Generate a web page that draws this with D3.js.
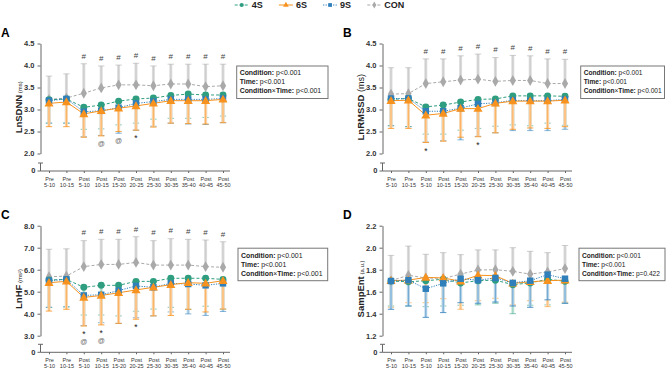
<!DOCTYPE html>
<html>
<head>
<meta charset="utf-8">
<script src="https://d3js.org/d3.v7.min.js"></script>
<style>
  body { margin: 0; background: #fff; }
  svg { font-family: "Liberation Sans", Arial, sans-serif; }
</style>
</head>
<body>
<svg id="chart" width="669" height="371"></svg>
<script>
// ---- data ----
const timeTop = ["Pre", "Pre", "Post", "Post", "Post", "Post", "Post", "Post", "Post", "Post", "Post"];
const timeBottom = ["5-10", "10-15", "5-10", "10-15", "15-20", "20-25", "25-30", "30-35", "35-40", "40-45", "45-50"];
const groups = ["4S", "6S", "9S", "CON"];

// A: LnSDNN (mean, lower SD end / upper SD end for CON)
const sdnn4S   = [3.22, 3.24, 3.05, 3.10, 3.19, 3.24, 3.26, 3.32, 3.35, 3.33, 3.33];
const sdnn4SLo = [2.69, 2.69, 2.55, 2.56, 2.65, 2.69, 2.78, 2.80, 2.80, 2.82, 2.85];
const sdnn6S   = [3.14, 3.17, 2.90, 2.97, 3.03, 3.08, 3.14, 3.20, 3.20, 3.20, 3.23];
const sdnn6SLo = [2.61, 2.61, 2.37, 2.40, 2.50, 2.53, 2.60, 2.69, 2.68, 2.67, 2.70];
const sdnn9S   = [3.20, 3.24, 2.95, 2.97, 3.04, 3.14, 3.18, 3.23, 3.23, 3.23, 3.25];
const sdnn9SLo = [2.69, 2.69, 2.38, 2.41, 2.46, 2.53, 2.62, 2.69, 2.67, 2.66, 2.70];
const sdnnCON   = [3.23, 3.26, 3.37, 3.49, 3.56, 3.56, 3.54, 3.58, 3.58, 3.52, 3.54];
const sdnnCONHi = [3.76, 3.81, 4.04, 3.99, 4.01, 4.05, 3.99, 4.03, 4.03, 4.03, 4.03];

// B: LnRMSSD
const rmssd4S   = [3.23, 3.25, 3.06, 3.10, 3.17, 3.23, 3.24, 3.31, 3.31, 3.31, 3.30];
const rmssd4SLo = [2.63, 2.61, 2.44, 2.44, 2.53, 2.57, 2.62, 2.65, 2.63, 2.69, 2.64];
const rmssd6S   = [3.20, 3.21, 2.87, 2.91, 3.02, 3.02, 3.14, 3.19, 3.19, 3.19, 3.21];
const rmssd6SLo = [2.57, 2.57, 2.25, 2.28, 2.37, 2.38, 2.47, 2.55, 2.58, 2.57, 2.61];
const rmssd9S   = [3.25, 3.25, 2.96, 2.96, 3.03, 3.13, 3.15, 3.21, 3.20, 3.20, 3.23];
const rmssd9SLo = [2.63, 2.61, 2.26, 2.29, 2.31, 2.39, 2.47, 2.52, 2.52, 2.52, 2.55];
const rmssdCON   = [3.35, 3.36, 3.59, 3.63, 3.67, 3.69, 3.64, 3.66, 3.66, 3.59, 3.59];
const rmssdCONHi = [3.95, 3.95, 4.15, 4.15, 4.22, 4.26, 4.18, 4.23, 4.22, 4.15, 4.14];

// C: LnHF
const hf4S   = [5.53, 5.56, 5.20, 5.29, 5.29, 5.47, 5.47, 5.61, 5.61, 5.61, 5.56];
const hf4SLo = [4.29, 4.31, 3.94, 3.94, 3.90, 4.11, 4.21, 4.29, 4.20, 4.34, 4.21];
const hf6S   = [5.41, 5.47, 4.74, 4.83, 4.95, 5.08, 5.20, 5.32, 5.41, 5.38, 5.50];
const hf6SLo = [4.12, 4.20, 3.44, 3.49, 3.56, 3.75, 3.90, 3.92, 4.20, 4.08, 4.21];
const hf9S   = [5.50, 5.56, 4.83, 4.86, 5.05, 5.26, 5.20, 5.38, 5.35, 5.29, 5.38];
const hf9SLo = [4.29, 4.31, 3.46, 3.59, 3.56, 3.82, 3.90, 4.08, 3.99, 3.92, 4.10];
const hfCON   = [5.68, 5.71, 6.14, 6.24, 6.24, 6.33, 6.21, 6.21, 6.21, 6.14, 6.11];
const hfCONHi = [6.93, 6.95, 7.32, 7.38, 7.38, 7.50, 7.32, 7.41, 7.38, 7.35, 7.27];

// D: SampEnt
const se4S   = [1.697, 1.690, 1.700, 1.713, 1.680, 1.700, 1.705, 1.664, 1.680, 1.713, 1.695];
const se4SLo = [1.470, 1.470, 1.464, 1.470, 1.477, 1.480, 1.495, 1.400, 1.477, 1.480, 1.495];
const se6S   = [1.700, 1.705, 1.730, 1.725, 1.695, 1.750, 1.745, 1.676, 1.690, 1.700, 1.705];
const se6SLo = [1.458, 1.500, 1.500, 1.536, 1.440, 1.518, 1.540, 1.480, 1.518, 1.464, 1.505];
const se9S   = [1.697, 1.705, 1.627, 1.676, 1.718, 1.705, 1.725, 1.680, 1.700, 1.755, 1.718];
const se9SLo = [1.440, 1.470, 1.367, 1.410, 1.500, 1.495, 1.506, 1.470, 1.458, 1.526, 1.495];
const seCON   = [1.700, 1.749, 1.725, 1.720, 1.760, 1.797, 1.800, 1.785, 1.760, 1.780, 1.810];
const seCONHi = [1.930, 2.015, 1.940, 1.955, 1.937, 1.980, 1.980, 2.000, 1.967, 1.955, 2.020];

// significance marks: index -> symbols stacked below the lowest error bar
const sdnnMarks  = [{ i: 3, s: ["@"] }, { i: 4, s: ["@"] }, { i: 5, s: ["*"] }];
const rmssdMarks = [{ i: 2, s: ["*"] }, { i: 5, s: ["*"] }];
const hfMarks    = [{ i: 2, s: ["*", "@"] }, { i: 3, s: ["*", "@"] }, { i: 5, s: ["*"] }];
const seMarks    = [];
const hashIdx = [2, 3, 4, 5, 6, 7, 8, 9, 10];

// ---- style ----
const color = { "4S": "#2f9e80", "6S": "#f7921e", "9S": "#2f7fba", "CON": "#a9a9a9" };
const pale  = { "4S": "#c4e6db", "6S": "#fdd7ad", "9S": "#bcd8ec", "CON": "#dcdcdc" };
const dash = { "4S": "3,2", "6S": null, "9S": "1.2,1.3", "CON": "3,2" };
const shape = { "4S": d3.symbolCircle, "6S": d3.symbolTriangle, "9S": d3.symbolSquare, "CON": d3.symbolDiamond };
const size = { "4S": 38, "6S": 36, "9S": 42, "CON": 34 };

const svg = d3.select("#chart");

const panels = [
  { letter: "A", ox: 0, top: 43.5, brk: 153.5, zero: 171, domain: [2.0, 4.5], ticks: [2.0, 2.5, 3.0, 3.5, 4.0, 4.5],
    label: "LnSDNN", unit: " (ms)", unitSmall: true, box: [236.7, 91.3],
    data: { "4S": [sdnn4S, sdnn4SLo], "6S": [sdnn6S, sdnn6SLo], "9S": [sdnn9S, sdnn9SLo], "CON": [sdnnCON, sdnnCONHi] },
    marks: sdnnMarks, order: ["CON", "4S", "9S", "6S"], stats: ["p<0.001", "p<0.001", "p<0.001"] },
  { letter: "B", ox: 342, top: 43.5, brk: 153.5, zero: 171, domain: [2.0, 4.5], ticks: [2.0, 2.5, 3.0, 3.5, 4.0, 4.5],
    label: "LnRMSSD", unit: " (ms)", unitSmall: false, box: [580.7, 83.8],
    data: { "4S": [rmssd4S, rmssd4SLo], "6S": [rmssd6S, rmssd6SLo], "9S": [rmssd9S, rmssd9SLo], "CON": [rmssdCON, rmssdCONHi] },
    marks: rmssdMarks, order: ["CON", "4S", "9S", "6S"], stats: ["p<0.001", "p<0.001", "p<0.001"] },
  { letter: "C", ox: 0, top: 225.7, brk: 335.7, zero: 352.3, domain: [3.0, 8.0], ticks: [3, 4, 5, 6, 7, 8],
    label: "LnHF", unit: " (ms²)", unitSmall: true, box: [238, 89.7],
    data: { "4S": [hf4S, hf4SLo], "6S": [hf6S, hf6SLo], "9S": [hf9S, hf9SLo], "CON": [hfCON, hfCONHi] },
    marks: hfMarks, order: ["CON", "4S", "9S", "6S"], stats: ["p<0.001", "p<0.001", "p<0.001"] },
  { letter: "D", ox: 342, top: 225.7, brk: 335.7, zero: 352.3, domain: [1.2, 2.2], ticks: [1.2, 1.4, 1.6, 1.8, 2.0, 2.2],
    label: "SampEnt", unit: " (a.u.)", unitSmall: true, box: [579, 86],
    data: { "4S": [se4S, se4SLo], "6S": [se6S, se6SLo], "9S": [se9S, se9SLo], "CON": [seCON, seCONHi] },
    marks: seMarks, order: ["CON", "4S", "6S", "9S"], stats: ["p<0.001", "p<0.001", "p=0.422"] }
];

function drawPanel(p) {
  const g = svg.append("g");
  const axisX = 40.5 + p.ox;
  const x = d3.scalePoint().domain(d3.range(11)).range([49 + p.ox, 223 + p.ox]);
  const y = d3.scaleLinear().domain(p.domain).range([p.brk, p.top]);
  const top = p.order[p.order.length - 1];

  // panel letter
  g.append("text").attr("x", 1 + p.ox).attr("y", p.top - 7)
    .attr("font-size", 12).attr("font-weight", "bold").text(p.letter);

  // y axis (upper part)
  const ya = g.append("g").attr("transform", `translate(${axisX},0)`)
    .call(d3.axisLeft(y).tickValues(p.ticks).tickFormat(d3.format(".1f")).tickSize(3).tickSizeOuter(0));
  ya.select(".domain").attr("stroke", "#666");
  ya.selectAll(".tick line").attr("stroke", "#666");
  ya.selectAll(".tick text").attr("font-size", 7.5).attr("font-weight", "bold").attr("fill", "#333")
    .attr("font-family", "Liberation Sans, Arial, sans-serif");

  // lower broken part with zero
  g.append("line").attr("x1", axisX).attr("x2", axisX).attr("y1", p.zero).attr("y2", p.zero - 8).attr("stroke", "#666");
  g.append("line").attr("x1", axisX - 2.5).attr("x2", axisX + 2.5).attr("y1", p.zero - 8).attr("y2", p.zero - 8).attr("stroke", "#666");
  g.append("line").attr("x1", axisX - 3).attr("x2", axisX).attr("y1", p.zero).attr("y2", p.zero).attr("stroke", "#666");
  g.append("text").attr("x", axisX - 5).attr("y", p.zero).attr("dy", "0.32em").attr("text-anchor", "end")
    .attr("font-size", 7.5).attr("font-weight", "bold").attr("fill", "#333").text("0");

  // x axis
  g.append("line").attr("x1", axisX).attr("x2", 230 + p.ox).attr("y1", p.zero).attr("y2", p.zero).attr("stroke", "#666");
  const xa = g.append("g").attr("transform", `translate(0,${p.zero})`)
    .call(d3.axisBottom(x).tickSize(2).tickFormat(""));
  xa.select(".domain").remove();
  xa.selectAll(".tick line").attr("stroke", "#666");
  xa.selectAll(".tick").append("text")
    .attr("text-anchor", "middle").attr("font-size", 5.5).attr("fill", "#333")
    .each(function(i) {
      const t = d3.select(this);
      t.append("tspan").attr("x", 0).attr("y", 10).text(timeTop[i]);
      t.append("tspan").attr("x", 0).attr("y", 16).text(timeBottom[i]);
    });

  // y axis title
  const midY = (p.top + p.zero) / 2;
  const title = g.append("text")
    .attr("transform", `translate(${16.5 + p.ox},${midY}) rotate(-90)`)
    .attr("text-anchor", "middle").attr("dy", "0.35em").attr("fill", "#222");
  title.append("tspan").attr("font-size", 9.5).attr("font-weight", "bold").text(p.label);
  if (p.unitSmall) {
    title.append("tspan").attr("font-size", 6).attr("dy", "-0.1em").text(p.unit);
  } else {
    title.append("tspan").attr("font-size", 9).text(p.unit);
  }

  // error bars (under everything): pale band, thin coloured core, cap
  const barOrder = p.order.filter(k => k !== "CON").concat(["CON"]);
  barOrder.forEach(k => {
    const [mean, ext] = p.data[k];
    const strong = k === top;
    const eb = g.append("g");
    eb.selectAll(null).data(d3.range(11)).join("line")
      .attr("x1", i => x(i)).attr("x2", i => x(i))
      .attr("y1", i => y(mean[i])).attr("y2", i => y(ext[i]))
      .attr("stroke", pale[k]).attr("stroke-width", 3);
    eb.selectAll(null).data(d3.range(11)).join("line")
      .attr("x1", i => x(i)).attr("x2", i => x(i))
      .attr("y1", i => y(mean[i])).attr("y2", i => y(ext[i]))
      .attr("stroke", color[k]).attr("stroke-width", 0.7).attr("stroke-opacity", strong ? 0.8 : 0.45);
    eb.selectAll(null).data(d3.range(11)).join("line")
      .attr("x1", i => x(i) - 3.2).attr("x2", i => x(i) + 3.2)
      .attr("y1", i => y(ext[i])).attr("y2", i => y(ext[i]))
      .attr("stroke", color[k]).attr("stroke-width", 1).attr("stroke-opacity", strong ? 0.8 : 0.55);
  });

  // lines and markers
  const line = d3.line().x((d, i) => x(i)).y(d => y(d));
  p.order.forEach(k => {
    const mean = p.data[k][0];
    g.append("path").datum(mean).attr("d", line).attr("fill", "none")
      .attr("stroke", color[k]).attr("stroke-width", 1)
      .attr("stroke-dasharray", dash[k]);
  });
  p.order.forEach(k => {
    const mean = p.data[k][0];
    g.selectAll(null).data(mean).join("path")
      .attr("transform", (d, i) => `translate(${x(i)},${y(d) + (k === "6S" ? 0.6 : 0)})`)
      .attr("d", d3.symbol().type(shape[k]).size(size[k]))
      .attr("fill", color[k]);
  });

  // '#' above CON
  const conHi = p.data["CON"][1];
  if (p.letter !== "D") {
    g.selectAll(null).data(hashIdx).join("text")
      .attr("x", i => x(i)).attr("y", i => y(conHi[i]) - 8).attr("dy", "0.35em")
      .attr("text-anchor", "middle").attr("font-size", 8).attr("fill", "#444").text("#");
  }

  // significance symbols below lowest error bar
  p.marks.forEach(m => {
    const low = d3.min(["4S", "6S", "9S"], k => p.data[k][1][m.i]);
    m.s.forEach((s, j) => {
      g.append("text").attr("x", x(m.i)).attr("y", y(low) + (s === "*" ? 11 : 10) + j * 8)
        .attr("text-anchor", "middle").attr("font-size", s === "*" ? 8.5 : 7)
        .attr("fill", s === "*" ? "#222" : "#666").text(s);
    });
  });

  // stats box
  const [bx, bw] = p.box, by = p.top + 22.5;
  g.append("rect").attr("x", bx).attr("y", by).attr("width", bw).attr("height", 32.5)
    .attr("fill", "#fff").attr("stroke", "#777").attr("stroke-width", 1);
  const fs = bw < 88 ? 6.6 : 6.9;
  ["Condition:", "Time:", "Condition\u00d7Time:"].forEach((n, j) => {
    const t = g.append("text").attr("x", bx + 3).attr("y", by + 9.3 + j * 9)
      .attr("font-size", fs).attr("fill", "#222");
    if (j === 2) {
      t.append("tspan").attr("font-weight", "bold").text("Condition");
      t.append("tspan").text("\u00d7");
      t.append("tspan").attr("font-weight", "bold").text("Time:");
    } else {
      t.append("tspan").attr("font-weight", "bold").text(n);
    }
    t.append("tspan").text(" " + p.stats[j]);
  });
}

panels.forEach(drawPanel);

// legend
const lg = svg.append("g");
groups.forEach((k, j) => {
  const cx = 241.7 + j * 44.2;
  lg.append("line").attr("x1", cx - 7).attr("x2", cx + 7).attr("y1", 5).attr("y2", 5)
    .attr("stroke", color[k]).attr("stroke-width", 1).attr("stroke-dasharray", dash[k]);
  lg.append("path").attr("transform", `translate(${cx},5)`)
    .attr("d", d3.symbol().type(shape[k]).size(14)).attr("fill", color[k]);
  lg.append("text").attr("x", cx + 10).attr("y", 5).attr("dy", "0.36em")
    .attr("font-size", 9).attr("font-weight", "bold").attr("fill", "#222").text(k);
});
</script>
</body>
</html>
